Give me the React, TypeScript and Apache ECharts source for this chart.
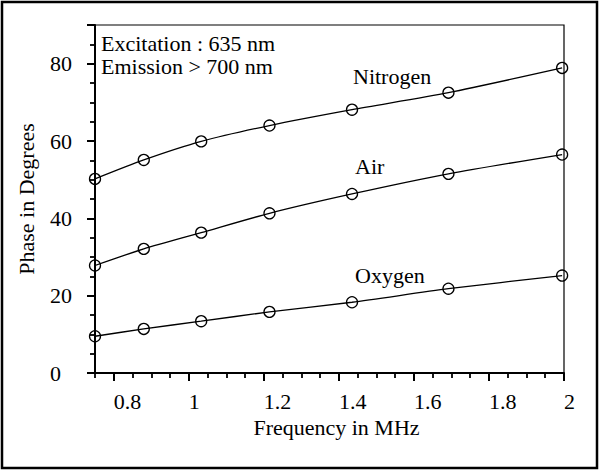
import React, { useEffect, useRef } from "react";
import * as echarts from "echarts";

// Frequencies in MHz (x values of the measured points)
const frequencies = [0.75, 0.88, 1.033, 1.215, 1.435, 1.692, 1.995];
// Phase in degrees for each gas
const nitrogen = [50.2, 55.1, 59.9, 64.0, 68.1, 72.5, 78.9];
const air = [27.8, 32.1, 36.3, 41.3, 46.3, 51.5, 56.5];
const oxygen = [9.5, 11.4, 13.4, 15.8, 18.3, 21.8, 25.2];

// Axis tick labels
const xTickLabels = [0.8, 1.0, 1.2, 1.4, 1.6, 1.8, 2.0];
const yTickLabels = [0, 20, 40, 60, 80];

const annotation = ["Excitation : 635 nm", "Emission > 700 nm"];
const seriesNames = ["Nitrogen", "Air", "Oxygen"];

const FONT = "'Liberation Serif', 'Times New Roman', serif";
const FS = 22;

// plot geometry
const X_MIN = 0.75;
const X_MAX = 2;
const G_LEFT = 95;
const G_RIGHT = 36;
const G_TOP = 25;
const G_BOTTOM = 98;
const W = 600;

export default function App() {
  const ref = useRef<HTMLDivElement>(null);

  useEffect(() => {
    if (!ref.current) return;
    const chart = echarts.init(ref.current, undefined, { renderer: "svg" });
    const mk = (vals: number[]) => frequencies.map((f, i) => [f, vals[i]]);
    const seriesBase = {
      type: "line" as const,
      smooth: 0.25,
      symbol: "circle",
      symbolSize: 11,
      xAxisIndex: 0,
      yAxisIndex: 0,
      lineStyle: { color: "#000", width: 1.3 },
      itemStyle: { color: "rgba(255,255,255,0)", borderColor: "#000", borderWidth: 1.3 },
      emphasis: { disabled: true },
    };
    const fmtX = (v: number) => String(parseFloat(v.toFixed(2)));
    const plotW = W - G_LEFT - G_RIGHT;
    const majorLeft = G_LEFT + ((xTickLabels[0] - X_MIN) / (X_MAX - X_MIN)) * plotW;
    const minorTick = { show: true, length: 5, lineStyle: { color: "#000", width: 1.8 } };
    const majorTick = { show: true, length: 8, lineStyle: { color: "#000", width: 2 } };
    chart.setOption({
      animation: false,
      backgroundColor: "#fff",
      grid: [
        {
          left: G_LEFT,
          right: G_RIGHT,
          top: G_TOP,
          bottom: G_BOTTOM,
          show: true,
          borderColor: "#000",
          borderWidth: 1.2,
        },
        { left: majorLeft, right: G_RIGHT, top: G_TOP, bottom: G_BOTTOM, show: false },
      ],
      xAxis: [
        {
          type: "value",
          gridIndex: 0,
          min: X_MIN,
          max: X_MAX,
          interval: 0.05,
          splitLine: { show: false },
          axisLine: { show: true, onZero: false, lineStyle: { color: "#000", width: 2 } },
          axisTick: minorTick,
          axisLabel: {
            customValues: xTickLabels,
            align: "left",
            margin: 17,
            fontFamily: FONT,
            fontSize: FS,
            color: "#000",
            formatter: fmtX,
          },
          name: "Frequency in MHz",
          nameLocation: "middle",
          nameGap: 41,
          nameTextStyle: {
            fontFamily: FONT,
            fontSize: FS,
            color: "#000",
            verticalAlign: "top",
            padding: [0, 0, 0, 14],
          },
        },
        {
          type: "value",
          gridIndex: 1,
          min: xTickLabels[0],
          max: X_MAX,
          interval: 0.2,
          splitLine: { show: false },
          axisLine: { show: false, onZero: false },
          axisTick: majorTick,
          axisLabel: { show: false },
        },
      ],
      yAxis: [
        {
          type: "value",
          gridIndex: 0,
          min: 0,
          max: 90,
          interval: 5,
          splitLine: { show: false },
          axisLine: { show: true, onZero: false, lineStyle: { color: "#000", width: 2 } },
          axisTick: minorTick,
          axisLabel: {
            customValues: yTickLabels,
            align: "left",
            margin: 45,
            fontFamily: FONT,
            fontSize: FS,
            color: "#000",
          },
          name: "Phase in Degrees",
          nameLocation: "middle",
          nameGap: 58,
          nameTextStyle: { fontFamily: FONT, fontSize: FS, color: "#000" },
        },
        {
          type: "value",
          gridIndex: 0,
          min: 0,
          max: 90,
          interval: 20,
          position: "left",
          offset: 0,
          splitLine: { show: false },
          axisLine: { show: false, onZero: false },
          axisTick: majorTick,
          axisLabel: { show: false },
        },
        { type: "value", gridIndex: 1, min: 0, max: 90, show: false },
      ],
      series: [
        { ...seriesBase, name: seriesNames[0], data: mk(nitrogen) },
        { ...seriesBase, name: seriesNames[1], data: mk(air) },
        { ...seriesBase, name: seriesNames[2], data: mk(oxygen) },
      ],
      graphic: [
        {
          type: "rect",
          shape: { x: 2, y: 2, width: 595, height: 466 },
          style: { fill: "none", stroke: "#000", lineWidth: 2.5 },
          z: 100,
        },
        {
          type: "text",
          x: 101,
          y: 32,
          style: {
            text: annotation.join("\n"),
            font: `${FS}px ${FONT}`,
            fill: "#000",
            lineHeight: 23,
          },
        },
        {
          type: "text",
          x: 353,
          y: 65,
          style: { text: seriesNames[0], font: `${FS}px ${FONT}`, fill: "#000" },
        },
        {
          type: "text",
          x: 355,
          y: 155,
          style: { text: seriesNames[1], font: `${FS}px ${FONT}`, fill: "#000" },
        },
        {
          type: "text",
          x: 355,
          y: 264,
          style: { text: seriesNames[2], font: `${FS}px ${FONT}`, fill: "#000" },
        },
      ],
    });
    return () => chart.dispose();
  }, []);

  return (
    <div
      ref={ref}
      style={{ position: "fixed", left: 0, top: 0, width: 600, height: 471, background: "#fff" }}
    />
  );
}
